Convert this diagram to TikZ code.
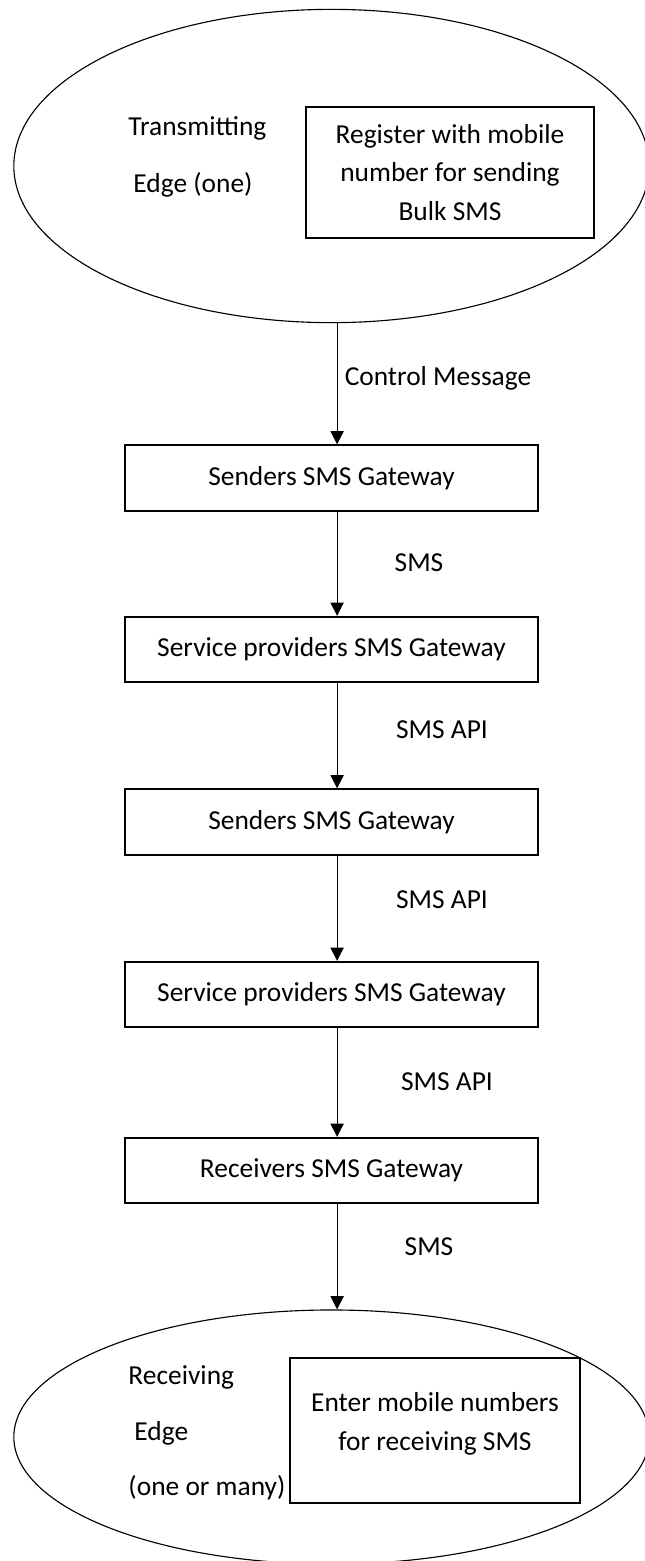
\documentclass[tikz,border=0pt]{standalone}
\usepackage{fontspec}
\setmainfont{Carlito}
\usetikzlibrary{shapes.geometric,arrows.meta}

\begin{document}
\begin{tikzpicture}[x=0.025cm, y=-0.025cm, line width=0.7pt,
	font=\fontsize{19.5}{27.5}\selectfont,
	zona/.style={ellipse, draw=black, line width=0.8pt, inner sep=0pt},
	gate/.style={rectangle, draw=black, line width=1.5pt,
		minimum width=10.33cm, minimum height=1.63cm, inner sep=2pt},
	regbox/.style={rectangle, draw=black, line width=1.5pt,
		align=center, inner sep=2pt},
	msg/.style={inner sep=1pt},
	lab/.style={anchor=west, inner sep=0pt},
	flow/.style={-{Triangle[length=3.3mm, width=3.3mm]}, line width=0.7pt, black},
	]
	
	\def\xa{1.4mm}  % spostamento della linea di flusso
	
	\useasboundingbox (0,0) rectangle (645,1561);
	
	%% ── Lato trasmittente ────────────────────────────────────────────────────
	\node[zona, minimum width=15.88cm, minimum height=7.83cm] (tx) at (331.5,166) {};
	\node[regbox, minimum width=7.2cm, minimum height=3.28cm] (reg) at (450,172.5)
		{Register with mobile\\number for sending\\Bulk SMS};
	\node[lab] (txa) at (128,128) {Transmitting};
	\node[lab] (txb) at (133,185) {Edge (one)};
	
	%% ── Gateway ──────────────────────────────────────────────────────────────
	\node[gate] (snd1) at (331.5,478)   {Senders SMS Gateway};
	\node[gate] (prv1) at (331.5,649.5) {Service providers SMS Gateway};
	\node[gate] (snd2) at (331.5,822)   {Senders SMS Gateway};
	\node[gate] (prv2) at (331.5,994.5) {Service providers SMS Gateway};
	\node[gate] (rcv)  at (331.5,1170.5){Receivers SMS Gateway};
	
	%% ── Lato ricevente ───────────────────────────────────────────────────────
	\node[zona, minimum width=15.88cm, minimum height=6.35cm] (rx) at (331.5,1437) {};
	\node[regbox, minimum width=7.25cm, minimum height=3.63cm] (ent) at (435,1430.5)
		{Enter mobile numbers\\for receiving SMS\\[-15pt]};
	\node[lab] (rxa) at (128,1377) {Receiving};
	\node[lab] (rxb) at (134,1433) {Edge};
	\node[lab] (rxc) at (128,1488) {(one or many)};
	
	%% ── Frecce ───────────────────────────────────────────────────────────────
	\draw[flow]([xshift=\xa]tx.south)--([xshift=\xa]snd1.north);
	\draw[flow]([xshift=\xa]snd1.south)--([xshift=\xa]prv1.north);
	\draw[flow]([xshift=\xa]prv1.south)--([xshift=\xa]snd2.north);
	\draw[flow]([xshift=\xa]snd2.south)--([xshift=\xa]prv2.north);
	\draw[flow]([xshift=\xa]prv2.south)--([xshift=\xa]rcv.north);
	\draw[flow]([xshift=\xa]rcv.south)--([xshift=\xa]rx.north);
	
	%% ── Etichette messaggi ───────────────────────────────────────────────────
	\node[msg] (m1) at (438,378)  {Control Message};
	\node[msg] (m2) at (419,563)  {SMS};
	\node[msg] (m3) at (442,730)  {SMS API};
	\node[msg] (m4) at (442,900)  {SMS API};
	\node[msg] (m5) at (447,1082) {SMS API};
	\node[msg] (m6) at (429,1247) {SMS};
	
\end{tikzpicture}
\end{document}
